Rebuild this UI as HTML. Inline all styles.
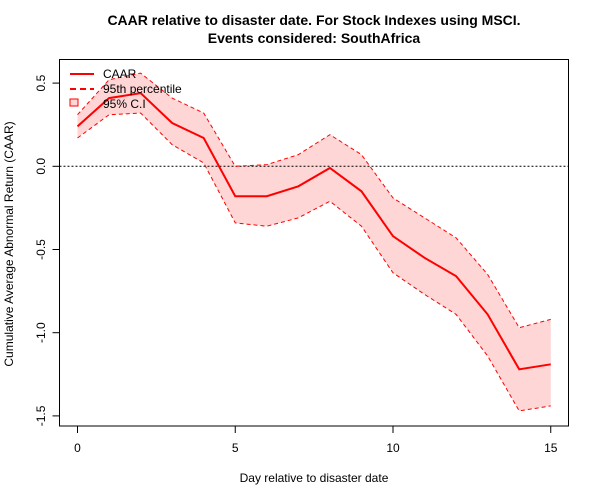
<!DOCTYPE html>
<html><head><meta charset="utf-8"><style>
body{margin:0;background:#fff;}
svg{display:block;font-family:"Liberation Sans",Arial,sans-serif;}
</style></head><body>
<svg id="chart" width="600" height="500">
<g font-weight="bold" font-size="14" text-anchor="middle">
<text x="314" y="25">CAAR relative to disaster date. For Stock Indexes using MSCI.</text>
<text x="314" y="43">Events considered: SouthAfrica</text>
</g>
<text x="314" y="482" font-size="12" text-anchor="middle">Day relative to disaster date</text>
<text transform="translate(13,244) rotate(-90)" font-size="12" text-anchor="middle">Cumulative Average Abnormal Return (CAAR)</text>
<g id="ci"></g><g id="lines"></g><g id="axes"></g>
<rect x="59.5" y="59.5" width="509" height="366.5" fill="none" stroke="#000"/>
<g font-size="12">
<line x1="70" y1="74" x2="94" y2="74" stroke="red" stroke-width="2"/>
<text x="103" y="78">CAAR</text>
<line x1="70" y1="89" x2="94" y2="89" stroke="red" stroke-width="2" stroke-dasharray="6,4"/>
<text x="103" y="93">95th percentile</text>
<rect x="70" y="99" width="8" height="7" fill="#ffd6d6" stroke="red"/>
<text x="103" y="108">95% C.I</text>
</g>
</svg>
<script>
const days=[0,1,2,3,4,5,6,7,8,9,10,11,12,13,14,15];
const caar=[0.24,0.41,0.44,0.26,0.17,-0.18,-0.18,-0.12,-0.01,-0.15,-0.42,-0.55,-0.66,-0.89,-1.22,-1.19];
const upper=[0.31,0.52,0.56,0.41,0.32,0.00,0.01,0.07,0.19,0.07,-0.19,-0.31,-0.43,-0.65,-0.97,-0.92];
const lower=[0.17,0.31,0.32,0.13,0.02,-0.34,-0.36,-0.31,-0.21,-0.36,-0.64,-0.77,-0.89,-1.14,-1.47,-1.44];
const xTicks=[0,5,10,15];
const yTicks=[0.5,0.0,-0.5,-1.0,-1.5];
const yTickLabels=["0.5","0.0","-0.5","-1.0","-1.5"];
const NS="http://www.w3.org/2000/svg";
const X=d=>77.5+d*31.55;
const Y=v=>166.3-v*166.4;
function mk(tag,attrs,parent){const e=document.createElementNS(NS,tag);for(const k in attrs)e.setAttribute(k,attrs[k]);parent.appendChild(e);return e;}
const ci=document.getElementById('ci'),ln=document.getElementById('lines'),ax=document.getElementById('axes');
const pts=a=>a.map((v,i)=>X(days[i])+","+Y(v));
let band=mk('polygon',{points:pts(upper).concat(pts(lower).reverse()).join(' '),fill:'#ffd6d6'},ci);


let zero=mk('line',{x1:59.5,x2:568.5,y1:Y(0),y2:Y(0),stroke:'#000','stroke-dasharray':'2,2'},ln);


let up=mk('polyline',{points:pts(upper).join(' '),fill:'none',stroke:'red','stroke-dasharray':'4,3'},ln);


let lo=mk('polyline',{points:pts(lower).join(' '),fill:'none',stroke:'red','stroke-dasharray':'4,3'},ln);


let cl=mk('polyline',{points:pts(caar).join(' '),fill:'none',stroke:'red','stroke-width':2},ln);


xTicks.forEach(t=>{
  let l=mk('line',{x1:X(t),x2:X(t),y1:426,y2:433,stroke:'#000'},ax);
  
  
  let tx=mk('text',{x:X(t),y:452,'font-size':12,'text-anchor':'middle'},ax);tx.textContent=t;
  
  
});
yTicks.forEach((t,i)=>{
  let l=mk('line',{x1:52.5,x2:59.5,y1:Y(t),y2:Y(t),stroke:'#000'},ax);
  
  
  let tx=mk('text',{transform:`translate(45,${Y(t)}) rotate(-90)`,'font-size':12,'text-anchor':'middle'},ax);tx.textContent=yTickLabels[i];
  
  
});
</script>
</body></html>
